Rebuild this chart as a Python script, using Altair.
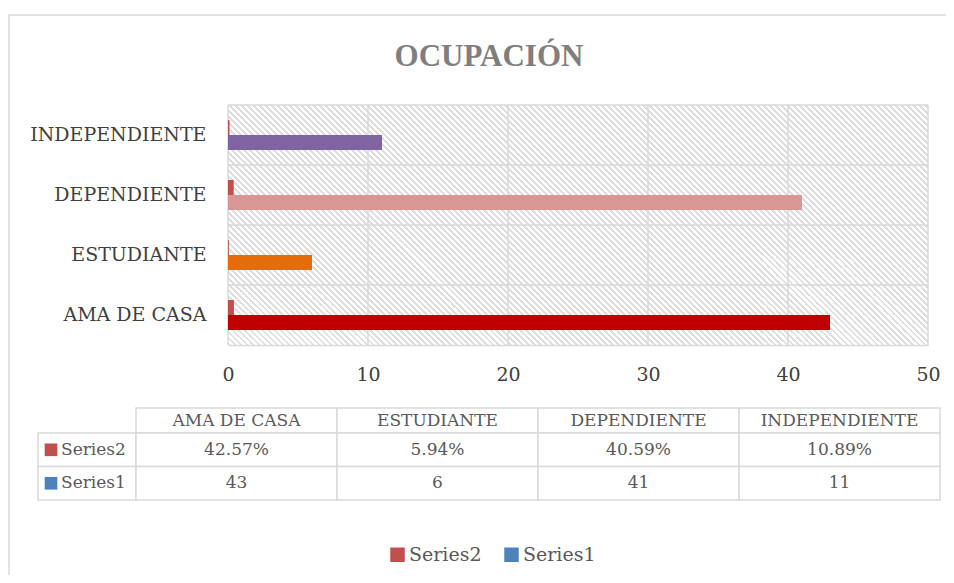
import altair as alt
import pandas as pd

# ---------------- data ----------------
categories = ["AMA DE CASA", "ESTUDIANTE", "DEPENDIENTE", "INDEPENDIENTE"]
series1 = [43, 6, 41, 11]
series2 = [0.4257, 0.0594, 0.4059, 0.1089]
series_names = ["Series2", "Series1"]
x_ticks = [0, 10, 20, 30, 40, 50]
chart_title = "OCUPACIÓN"

# ---------------- style ----------------
W, H = 700, 240
SERIF = "DejaVu Serif"
GRID = "#d9d9d9"
TEXT_DARK = "#404040"
TEXT_MID = "#595959"
cat_colors = ["#c00000", "#e46c0a", "#d99694", "#8064a2"]
series_colors = ["#c0504d", "#4f81bd"]

# table layout relative to the plot origin (px)
T_LEFT, T_COL0, T_RIGHT = -190, -92, 712
T_TOP, T_BOTTOM = 303, 395
label_w = (T_COL0 - T_LEFT) / ((T_RIGHT - T_COL0) / 4)
HEAD_H = 0.75

# ---------------- hatch gradient (downward diagonal) ----------------
period = 6.0
duty = 0.38
total = W + H
stops = []
pos = 0.0
while pos < total:
    a = pos / total
    b = min((pos + duty * period) / total, 1.0)
    c = min((pos + period) / total, 1.0)
    stops += [alt.GradientStop(color="#dedede", offset=a),
              alt.GradientStop(color="#dedede", offset=b),
              alt.GradientStop(color="#ffffff", offset=b),
              alt.GradientStop(color="#ffffff", offset=c)]
    pos += period
k = (W + H) * W / (W * W + H * H)
hatch_fill = alt.LinearGradient(gradient="linear", stops=stops,
                                x1=0, y1=1, x2=k, y2=1 - (H / W) * k)

# ---------------- scales & axes ----------------
y_order = categories[::-1]
xscale = alt.Scale(domain=[0, 50], nice=False, zero=True)
yscale = alt.Scale(domain=y_order, paddingInner=0, paddingOuter=0)

x_axis = alt.Axis(values=x_ticks, title=None, grid=False, ticks=False, domain=True,
                  domainColor=GRID, domainWidth=1.5, labelFont=SERIF, labelFontSize=19,
                  labelColor=TEXT_DARK, labelPadding=20, labelFlush=False, zindex=1)
y_axis = alt.Axis(title=None, grid=False, ticks=False, domain=False, labelFont=SERIF,
                  labelFontSize=19, labelColor=TEXT_DARK, labelPadding=22)

# ---------------- plot layers ----------------
rows = []
for c, v in zip(categories, series1):
    rows.append({"cat": c, "series": "Series1", "value": v, "ckey": c})
for c, v in zip(categories, series2):
    rows.append({"cat": c, "series": "Series2", "value": v, "ckey": "Series2"})
bars_df = pd.DataFrame(rows)

hatch = alt.Chart(pd.DataFrame({"d": [0]})).mark_rect(fill=hatch_fill).encode(
    x=alt.XDatum(datum=0, type="quantitative", scale=xscale, axis=x_axis),
    x2=alt.X2Datum(datum=50),
)
vgrid = alt.Chart(pd.DataFrame({"tick": x_ticks})).mark_rule(color=GRID, strokeWidth=1.5).encode(
    x=alt.X("tick:Q", scale=xscale, axis=x_axis)
)
hgrid = alt.Chart(pd.DataFrame({"cat": categories})).mark_rule(color=GRID, strokeWidth=1.5).encode(
    y=alt.Y("cat:N", scale=yscale, axis=y_axis, bandPosition=0)
)
bars = alt.Chart(bars_df).mark_bar().encode(
    x=alt.X("value:Q", scale=xscale, axis=x_axis),
    y=alt.Y("cat:N", scale=yscale, axis=y_axis),
    yOffset=alt.YOffset("series:N", scale=alt.Scale(domain=series_names, paddingInner=0, paddingOuter=1)),
    color=alt.Color("ckey:N", scale=alt.Scale(domain=categories + ["Series2"],
                                              range=cat_colors + [series_colors[0]]), legend=None),
)
plot = alt.layer(hatch, vgrid, hgrid, bars)

# ---------------- data table ----------------
cells, heads, vals, labels = [], [], [], []
for i, c in enumerate(categories):
    cells.append({"c0": i, "c1": i + 1, "r0": 0, "r1": HEAD_H})
    heads.append({"xm": i + 0.5, "ym": HEAD_H / 2, "txt": c})
for j, s in enumerate(series_names):
    r0 = HEAD_H + j
    cells.append({"c0": -label_w, "c1": 0, "r0": r0, "r1": r0 + 1})
    labels.append({"x0": -label_w, "ym": r0 + 0.5, "series": s})
    data = series2 if s == "Series2" else series1
    for i, v in enumerate(data):
        cells.append({"c0": i, "c1": i + 1, "r0": r0, "r1": r0 + 1})
        vals.append({"xm": i + 0.5, "ym": r0 + 0.5, "v": v, "series": s})
cells_df = pd.DataFrame(cells)
heads_df = pd.DataFrame(heads)
vals_df = pd.DataFrame(vals)
labels_df = pd.DataFrame(labels)

tx = alt.Scale(domain=[-label_w, 4], range=[T_LEFT, T_RIGHT], nice=False, zero=False)
ty = alt.Scale(domain=[0, HEAD_H + 2], range=[T_TOP, T_BOTTOM], nice=False, zero=False)

cell_layer = alt.Chart(cells_df).mark_rect(fill="white", stroke=GRID, strokeWidth=1.5).encode(
    x=alt.X("c0:Q", scale=tx, axis=None), x2="c1",
    y=alt.Y("r0:Q", scale=ty, axis=None), y2="r1",
)
txt_style = dict(font=SERIF, fontSize=17, color=TEXT_MID, baseline="middle")
head_layer = alt.Chart(heads_df).mark_text(align="center", **txt_style).encode(
    x=alt.X("xm:Q", scale=tx, axis=None), y=alt.Y("ym:Q", scale=ty, axis=None), text="txt:N"
)
s2_layer = alt.Chart(vals_df).transform_filter(alt.datum.series == "Series2").mark_text(
    align="center", **txt_style).encode(
    x=alt.X("xm:Q", scale=tx, axis=None), y=alt.Y("ym:Q", scale=ty, axis=None),
    text=alt.Text("v:Q", format=".2%"),
)
s1_layer = alt.Chart(vals_df).transform_filter(alt.datum.series == "Series1").mark_text(
    align="center", **txt_style).encode(
    x=alt.X("xm:Q", scale=tx, axis=None), y=alt.Y("ym:Q", scale=ty, axis=None),
    text=alt.Text("v:Q", format="d"),
)
lab_layer = alt.Chart(labels_df).mark_text(align="left", dx=23, **txt_style).encode(
    x=alt.X("x0:Q", scale=tx, axis=None), y=alt.Y("ym:Q", scale=ty, axis=None), text="series:N"
)
sq_layer = alt.Chart(labels_df).mark_point(shape="square", filled=True, size=160, opacity=1,
                                           xOffset=13).encode(
    x=alt.X("x0:Q", scale=tx, axis=None), y=alt.Y("ym:Q", scale=ty, axis=None),
    color=alt.Color("series:N", scale=alt.Scale(domain=series_names, range=series_colors),
                    legend=alt.Legend(orient="none", legendX=160, legendY=440,
                                      direction="horizontal", title=None, symbolType="square",
                                      symbolSize=210, symbolStrokeWidth=0, symbolOpacity=1,
                                      labelFont=SERIF, labelFontSize=19, labelColor=TEXT_MID,
                                      labelOffset=2, columnPadding=20, padding=0)),
)
# outer chart-area border (decoration)
frame = alt.Chart(pd.DataFrame({"d": [0]})).mark_rect(
    fill=None, stroke=GRID, strokeWidth=1.5
).encode(x=alt.value(-219), x2=alt.value(760), y=alt.value(-90), y2=alt.value(520))

table = alt.layer(cell_layer, head_layer, s2_layer, s1_layer, lab_layer, sq_layer, frame)

chart = alt.layer(plot, table).resolve_scale(
    x="independent", y="independent", color="independent"
).properties(
    width=W, height=H,
    title=alt.TitleParams(chart_title, font="Liberation Serif", fontSize=31, fontWeight="bold",
                          color="#7f7f7f", anchor="middle", frame="group", dx=-89, offset=-59),
    autosize=alt.AutoSizeParams(type="none"),
    padding={"left": 220, "top": 97, "right": 18, "bottom": 230},
).configure_view(stroke=None)

chart.save("out.html", embed_options={"renderer": "svg", "actions": False})
